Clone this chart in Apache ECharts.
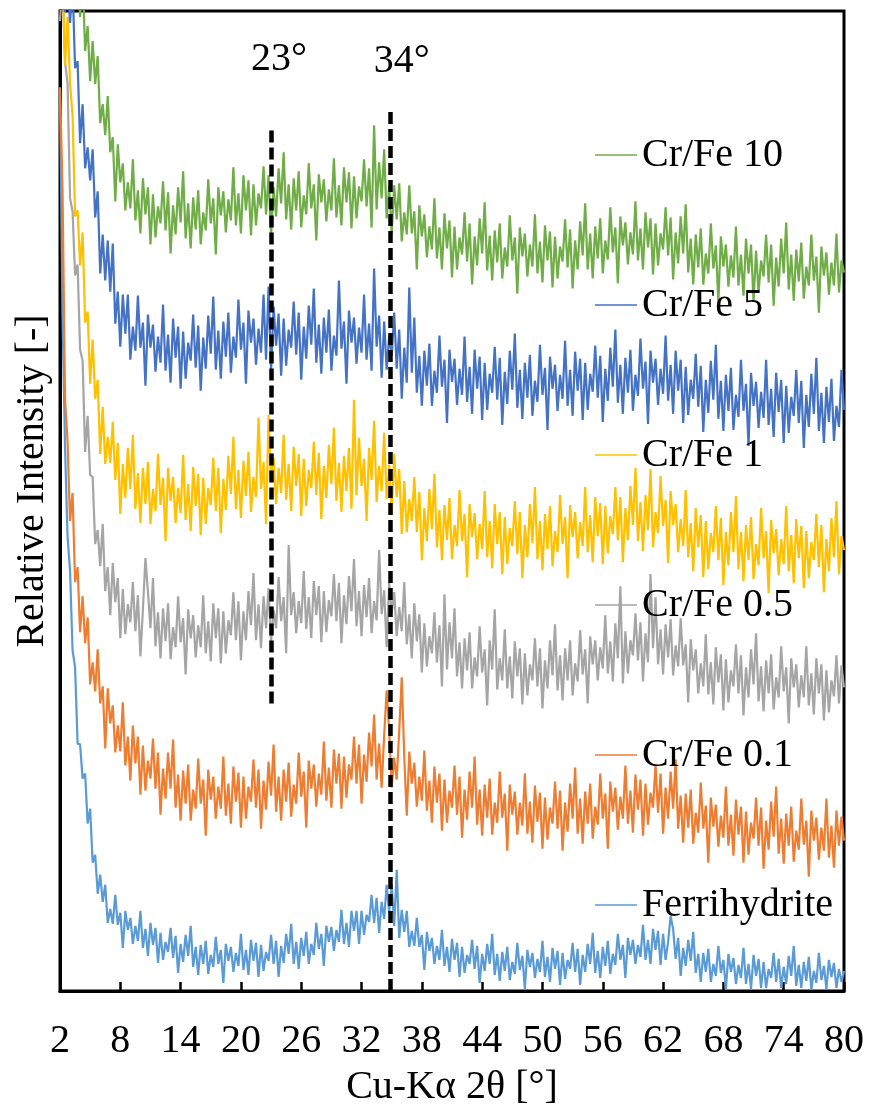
<!DOCTYPE html>
<html lang="en">
  <head>
    <meta charset="UTF-8" />
    <title>XRD Cr/Fe</title>
    <script src="https://cdn.jsdelivr.net/npm/echarts@6/dist/echarts.min.js"></script>
    <style>
      body { margin: 0; background: #fff; }
      #chart { width: 869px; height: 1118px; }
    </style>
  </head>
  <body>
    <div id="chart"></div>
    <script>
      // 2θ grid: 2° .. 80° every 0.25°
      const X_START = 2;
      const X_STEP = 0.25;
      const xTicks = [2, 8, 14, 20, 26, 32, 38, 44, 50, 56, 62, 68, 74, 80];

      const names = ["Ferrihydrite", "Cr/Fe 0.1", "Cr/Fe 0.5", "Cr/Fe 1", "Cr/Fe 5", "Cr/Fe 10"];
      const colors = ["#5B9BD5", "#ED7D31", "#A5A5A5", "#FFC000", "#4472C4", "#70AD47"];
      const legendOrder = ["Cr/Fe 10", "Cr/Fe 5", "Cr/Fe 1", "Cr/Fe 0.5", "Cr/Fe 0.1", "Ferrihydrite"];

      // relative intensity (curves stacked with offsets)
      const ferrihydrite = [
        900,674,543,454, 419,340,323,247,
        246,212,217,167, 182,128,136,97,
        116,89,106,68, 82,67,96,66,
        78,43,80,61, 73,47,65,50,
        80,43,62,35, 68,46,63,28,
        58,31,49,39, 63,33,55,18,
        47,29,56,35, 65,24,44,16,
        46,27,50,17, 36,24,54,27,
        41,8,47,30, 44,19,38,25,
        57,21,41,16, 51,30,48,14,
        46,20,39,30, 56,27,50,14,
        45,28,57,37, 67,27,49,22,
        53,35,59,27, 47,36,68,42,
        57,25,65,49, 64,40,61,49,
        81,47,68,44, 80,60,80,47,
        80,56,76,69, 96,68,93,58,
        89,72,106,78, 107,65,121,53,
        81,59,80,44, 60,45,73,44,
        56,21,59,40, 53,27,45,31,
        61,25,44,19, 52,31,48,14,
        44,18,36,27, 51,22,45,8,
        37,20,47,27, 57,16,37,10,
        39,20,44,11, 29,17,48,21,
        35,2,41,24, 38,13,32,19,
        50,14,34,9, 43,22,40,6,
        38,12,31,22, 48,19,42,6,
        36,19,47,27, 58,18,40,13,
        44,25,50,17, 37,26,57,31,
        46,13,53,36, 51,27,46,34,
        66,31,51,27, 62,41,60,26,
        57,31,49,75, 62,32,53,15,
        43,25,51,30, 59,18,37,9,
        38,19,42,9, 27,15,45,18,
        31,2,37,19, 33,7,26,13,
        43,7,27,2, 36,15,32,3,
        29,3,22,13, 38,9,32,3,
        24,7,35,15, 45,5,26,3,
        29,10,34,1, 20,8,38,11,
        25,2,31,14, 28,3,22,9,
        20
      ];
      const crfe01 = [
        902,800,591,549, 469,497,408,423,
        358,394,347,373, 306,328,299,341,
        287,304,242,302, 267,285,238,265,
        239,288,225,254, 210,265,227,254,
        196,245,200,230, 212,252,202,238,
        176,222,192,238, 202,251,183,216,
        170,220,187,226, 170,201,182,232,
        187,211,155,221, 191,214,172,204,
        182,234,175,207, 167,224,189,218,
        163,214,172,204, 189,231,183,221,
        162,210,181,229, 195,246,179,214,
        170,221,189,228, 174,206,187,238,
        194,219,163,230, 202,226,184,217,
        196,249,190,223, 183,241,207,237,
        182,234,193,226, 211,254,207,246,
        187,236,209,258, 224,276,211,247,
        203,255,300,260, 203,233,211,260,
        313,234,175,239, 207,228,184,214,
        190,240,180,210, 168,224,188,217,
        160,211,168,200, 183,225,176,214,
        153,201,171,219, 183,234,166,201,
        155,206,173,212, 156,188,168,219,
        173,197,140,206, 176,199,156,188,
        165,217,157,189, 148,205,169,198,
        142,193,151,183, 167,209,162,200,
        140,188,159,207, 172,223,157,192,
        147,199,167,207, 152,184,166,217,
        172,197,142,209, 179,203,161,194,
        172,225,167,200, 158,216,181,211,
        155,207,166,198, 183,226,178,217,
        157,203,172,219, 182,231,162,195,
        148,197,163,201, 147,178,158,208,
        162,185,128,193, 164,186,144,175,
        153,204,145,176, 135,191,156,184,
        128,179,136,168, 152,193,145,183,
        122,170,141,189, 154,204,137,172,
        127,177,145,184, 129,160,141,192,
        146,170,114,180, 150,173,131,163,
        140,192,133,165, 123,180,145,174,
        150
      ];
      const crfe05 = [
        968,1009,927,906, 791,778,714,725,
        640,629,538,574, 515,513,446,460,
        424,466,399,423, 375,427,388,412,
        352,401,356,386, 368,408,359,395,
        334,381,432,398, 362,412,344,378,
        332,382,349,387, 331,363,343,394,
        348,372,316,381, 352,375,333,365,
        343,395,337,369, 329,387,352,382,
        327,379,337,370, 355,398,350,389,
        330,379,350,399, 365,417,350,386,
        342,394,362,402, 348,380,362,413,
        369,393,337,445, 375,398,357,389,
        367,419,361,393, 352,409,375,404,
        348,399,358,390, 374,416,369,407,
        347,395,366,414, 379,431,364,399,
        354,405,373,412, 357,389,370,440,
        376,400,343,408, 377,398,354,383,
        359,408,346,376, 332,387,349,376,
        318,367,324,354, 337,378,328,365,
        304,396,321,368, 332,382,314,348,
        302,352,320,358, 302,333,314,364,
        318,341,285,350, 321,381,301,332,
        310,361,302,334, 292,349,314,342,
        286,337,295,326, 310,352,304,342,
        282,330,302,350, 315,366,300,335,
        290,342,310,350, 295,327,309,360,
        316,341,287,354, 326,350,310,343,
        322,375,317,349, 309,367,332,404,
        307,359,317,350, 335,377,330,368,
        309,357,328,416, 342,393,326,361,
        316,366,333,371, 315,345,324,372,
        325,346,288,351, 320,341,297,327,
        304,356,296,328, 286,343,308,336,
        280,331,288,320, 304,346,297,335,
        275,323,293,341, 306,357,289,324,
        279,330,297,336, 281,313,293,344,
        299,323,267,332, 303,326,283,315,
        293,344,285,317, 276,332,297,326,
        270,320,278,310, 294,335,287,325,
        303
      ];
      const crfe1 = [
        989,1016,924,972, 905,874,773,779,
        724,757,667,678, 606,650,591,610,
        536,583,526,553, 527,568,510,547,
        476,526,492,542, 501,555,481,517,
        467,522,486,528, 466,501,479,536,
        485,512,449,522, 489,513,467,502,
        477,535,470,506, 459,523,484,516,
        455,512,466,502, 485,532,479,522,
        457,511,480,534, 496,553,481,520,
        472,529,494,538, 478,513,493,572,
        501,528,466,575, 508,532,486,522,
        497,555,490,526, 479,543,504,536,
        474,531,484,520, 502,548,495,537,
        471,524,492,545, 506,562,489,527,
        478,534,499,542, 481,590,495,552,
        504,531,469,542, 510,569,488,524,
        499,557,491,525, 476,536,493,521,
        456,509,458,491, 469,513,458,498,
        430,482,449,501, 461,516,443,480,
        430,485,450,492, 431,465,444,500,
        449,476,413,486, 453,477,431,466,
        441,499,433,469, 422,486,446,478,
        416,473,426,462, 444,489,436,478,
        412,465,433,486, 447,503,431,469,
        420,476,441,484, 424,459,438,495,
        446,473,412,485, 453,478,432,468,
        444,503,438,475, 428,493,454,487,
        426,484,437,474, 456,503,450,493,
        428,482,450,504, 465,522,449,488,
        439,495,460,521, 443,478,457,514,
        464,490,427,499, 465,486,438,471,
        444,500,433,467, 419,482,443,475,
        413,469,421,457, 438,484,430,472,
        405,458,425,478, 438,494,421,458,
        409,465,430,473, 411,446,425,482,
        432,459,397,470, 437,461,415,451,
        426,484,419,455, 407,471,432,464,
        402,459,412,448, 430,476,423,465,
        398,451,419,472, 433,489,416,454,
        440
      ];
      const crfe5 = [
        984,1042,977,1013, 966,1005,921,928,
        846,885,821,842, 809,840,772,798,
        716,755,709,749, 698,746,666,698,
        643,695,656,695, 630,663,639,694,
        642,667,604,675, 642,665,618,653,
        627,685,619,655, 607,671,632,663,
        601,658,611,647, 629,675,622,664,
        599,652,621,674, 636,693,620,659,
        611,668,633,677, 617,653,632,690,
        640,667,606,679, 647,671,625,661,
        637,695,630,703, 619,683,644,676,
        614,671,624,660, 642,688,635,677,
        610,663,631,684, 645,701,627,665,
        616,672,637,680, 619,654,634,709,
        641,668,606,679, 647,672,626,662,
        637,695,630,666, 619,721,643,674,
        612,668,620,654, 634,677,621,660,
        591,642,607,702, 617,672,597,634,
        584,639,604,646, 584,619,597,654,
        603,630,567,640, 608,631,585,621,
        595,653,588,623, 576,640,601,633,
        570,627,580,616, 597,643,590,632,
        565,618,586,639, 600,656,582,620,
        571,627,592,635, 574,609,588,645,
        595,622,560,633, 601,625,579,615,
        591,649,584,620, 574,638,599,631,
        570,627,580,616, 598,644,592,634,
        568,621,589,642, 603,660,587,625,
        576,632,597,640, 579,615,594,651,
        601,628,566,639, 607,631,585,621,
        596,654,589,625, 576,639,599,630,
        567,623,575,610, 591,636,583,624,
        558,610,577,629, 590,645,571,609,
        559,615,579,622, 560,595,573,630,
        579,606,544,617, 584,608,562,598,
        572,630,565,601, 553,617,578,610,
        547,604,557,593, 574,620,567,609,
        542,595,563,616, 576,632,559,597,
        547,603,568,611, 549,584,563,620,
        580
      ];
      const crfe10 = [
        994,1020,990,1014, 996,1006,988,1018,
        972,1015,938,963, 908,948,905,933,
        866,885,854,893, 837,852,788,845,
        807,826,779,807, 781,830,769,799,
        756,811,775,802, 745,795,752,783,
        766,808,759,797, 736,784,755,802,
        767,818,751,786, 741,792,760,799,
        745,777,759,810, 766,791,735,802,
        774,798,757,790, 769,822,764,796,
        756,814,779,809, 754,805,764,796,
        781,823,775,814, 754,802,773,821,
        786,837,770,805, 760,811,779,818,
        762,794,775,826, 781,805,749,815,
        787,810,768,800, 779,831,772,804,
        764,822,787,817, 761,813,771,803,
        788,830,783,821, 762,864,780,827,
        791,840,771,803, 756,804,770,806,
        748,777,755,804, 756,778,720,784,
        753,775,732,763, 740,791,731,762,
        720,776,741,769, 712,763,720,752,
        735,777,728,766, 705,753,724,771,
        736,787,719,754, 709,759,727,766,
        711,742,723,774, 729,752,696,762,
        733,756,713,745, 723,775,716,748,
        707,764,729,758, 702,753,711,743,
        728,770,722,760, 701,749,720,768,
        734,786,720,756, 711,763,731,771,
        716,749,730,782, 737,762,706,773,
        744,767,725,757, 735,788,729,761,
        720,777,742,771, 715,766,724,756,
        740,782,734,772, 710,757,726,773,
        736,785,717,751, 705,755,722,761,
        705,736,716,766, 721,744,687,753,
        723,745,703,734, 712,763,704,735,
        694,751,716,745, 688,739,697,729,
        713,755,707,745, 684,732,703,751,
        716,767,700,735, 689,740,708,747,
        691,723,704,755, 709,733,677,743,
        714,737,695,727, 704,756,697,729,
        717
      ];
      const seriesValues = [ferrihydrite, crfe01, crfe05, crfe1, crfe5, crfe10];

      // dashed guide lines: 2θ position and vertical extent in intensity units
      const guideX = [23, 34.85];
      const guideFrom = [287, 0];
      const guideTo = [860, 880];
      const guideText = ["23°", "34°"];
      const guideTextX = [23.8, 36.0];
      const guideTextY = [930, 928];

      const serif = "Liberation Serif, Tinos, Times New Roman, serif";

      function toPairs(vals) {
        return vals.map((v, i) => [X_START + i * X_STEP, v]);
      }

      const series = names.map((name, k) => ({
        name: name,
        type: "line",
        data: toPairs(seriesValues[k]),
        symbol: "none",
        showSymbol: false,
        clip: true,
        color: colors[k],
        lineStyle: { color: colors[k], width: 2.2, join: "miter", miterLimit: 2 },
        z: 2,
      }));

      series.push({
        name: "guides",
        type: "line",
        data: [],
        z: 5,
        markLine: {
          silent: true,
          symbol: "none",
          animation: false,
          label: { show: false },
          lineStyle: { color: "#000", width: 4.5, type: [12, 5] },
          data: guideX.map((x, i) => [
            { coord: [x, guideFrom[i]] },
            { coord: [x, guideTo[i]] },
          ]),
        },
        markPoint: {
          silent: true,
          symbol: "rect",
          symbolSize: 1,
          itemStyle: { color: "rgba(0,0,0,0)" },
          label: {
            show: true,
            position: "inside",
            color: "#000",
            fontFamily: serif,
            fontSize: 40,
          },
          data: guideText.map((t, i) => ({
            coord: [guideTextX[i], guideTextY[i]],
            label: { formatter: t },
          })),
        },
      });

      var chart = echarts.init(document.getElementById("chart"));
      var option = {
        animation: false,
        textStyle: { fontFamily: serif },
        grid: {
          left: 60,
          right: 25,
          top: 11,
          bottom: 127,
          show: true,
          borderColor: "#000",
          borderWidth: 3,
          containLabel: false,
        },
        legend: {
          data: legendOrder,
          orient: "vertical",
          left: 595,
          top: 135,
          padding: 0,
          icon: "rect",
          itemWidth: 42,
          itemHeight: 1.5,
          itemGap: 110,
          textStyle: {
            color: "#000",
            fontFamily: serif,
            fontSize: 40,
            lineHeight: 40,
          },
        },
        xAxis: {
          type: "value",
          min: 2,
          max: 80,
          name: "Cu-Kα 2θ [°]",
          nameLocation: "middle",
          nameGap: 76,
          nameTextStyle: { color: "#000", fontFamily: serif, fontSize: 40 },
          axisLine: { show: true, lineStyle: { color: "#000", width: 3 } },
          axisTick: {
            show: true,
            inside: true,
            length: 9,
            customValues: xTicks,
            lineStyle: { color: "#000", width: 2.5 },
          },
          axisLabel: {
            customValues: xTicks,
            color: "#000",
            fontFamily: serif,
            fontSize: 40,
            margin: 30,
          },
          splitLine: { show: false },
        },
        yAxis: {
          type: "value",
          min: 0,
          max: 978,
          name: "Relative Intensity [-]",
          nameLocation: "middle",
          nameGap: 8,
          nameTextStyle: {
            color: "#000",
            fontFamily: serif,
            fontSize: 40,
            padding: [0, 0, 0, 40],
          },
          axisLine: { show: true, lineStyle: { color: "#000", width: 3 } },
          axisTick: { show: false },
          axisLabel: { show: false },
          splitLine: { show: false },
        },
        series: series,
      };
      chart.setOption(option);
    </script>
  </body>
</html>
